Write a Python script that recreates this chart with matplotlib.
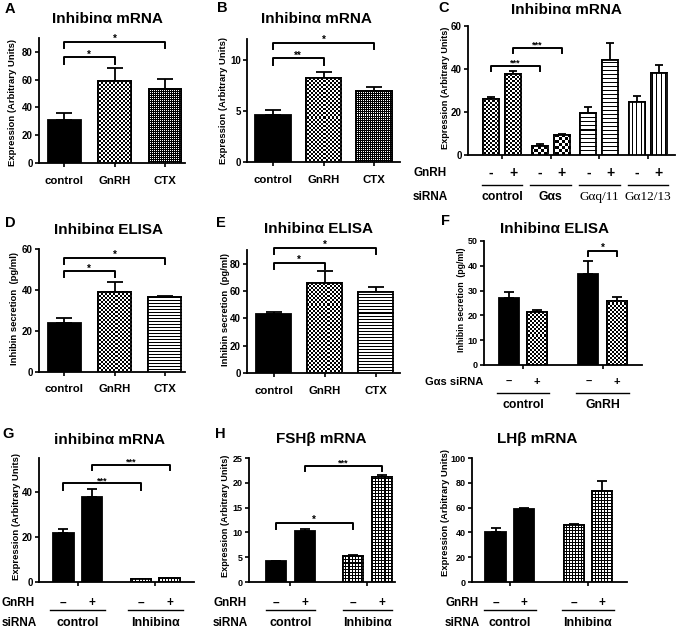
import numpy as np
import matplotlib
matplotlib.use('Agg')
import matplotlib.pyplot as plt

plt.rcParams['font.family'] = ['Liberation Sans', 'DejaVu Sans']
plt.rcParams['font.weight'] = 'bold'
plt.rcParams['axes.labelweight'] = 'bold'

W, H = 683, 628
fig = plt.figure(figsize=(W / 100, H / 100), dpi=100)

# ---------------- data ----------------
cat3 = ['control', 'GnRH', 'CTX']
A_vals = [31, 59, 53]
A_err = [5, 9.2, 7.5]
B_vals = [4.6, 8.2, 6.95]
B_err = [0.5, 0.55, 0.4]
D_vals = [23.9, 38.8, 36.4]
D_err = [2.3, 4.9, 0.6]
E_vals = [42.9, 66.1, 59.5]
E_err = [1.5, 8.6, 3.2]

C_groups = ['control', 'Gαs', 'Gαq/11', 'Gα12/13']
C_minus = [26.0, 4.3, 19.6, 24.7]
C_minus_err = [0.9, 0.8, 2.5, 2.8]
C_plus = [37.6, 9.3, 44.0, 38.2]
C_plus_err = [1.5, 0.4, 8.1, 3.8]

F_groups = ['control', 'GnRH']
F_minus = [27.2, 36.5]
F_minus_err = [2.4, 5.4]
F_plus = [21.4, 26.0]
F_plus_err = [0.8, 1.4]

KD_groups = ['control', 'Inhibinα']
G_minus = [21.8, 1.3]
G_minus_err = [1.8, 0.2]
G_plus = [37.6, 1.6]
G_plus_err = [3.7, 0.2]
H_minus = [4.2, 5.3]
H_minus_err = [0.1, 0.15]
H_plus = [10.2, 21.2]
H_plus_err = [0.5, 0.3]
L_minus = [40.4, 45.8]
L_minus_err = [3.5, 0.8]
L_plus = [58.8, 73.0]
L_plus_err = [1.0, 8.1]


# ---------------- helpers ----------------
def ftext(x, y, s, **kw):
    fig.text(x / W, 1 - y / H, s, **kw)


def make_ax(box, ymax, yticks, xlim, ytfs=7):
    l, t, r, b = box
    ax = fig.add_axes([l / W, 1 - b / H, (r - l) / W, (b - t) / H])
    ax._box = box
    ax._lim = (xlim, (0, ymax))
    ax.set_yticks(yticks)
    for s in ['top', 'right']:
        ax.spines[s].set_visible(False)
    for s in ['left', 'bottom']:
        ax.spines[s].set_linewidth(1.3)
    ax.tick_params(direction='out', length=3, width=1.2, labelsize=ytfs, pad=1.5)
    ax.patch.set_alpha(0)
    return ax


def finish(ax):
    ax.set_xlim(*ax._lim[0])
    ax.set_ylim(*ax._lim[1])


def pattern(kind, h, w):
    i, j = np.mgrid[0:h, 0:w]
    if kind == 'check1':
        a = (i + j) % 2
    elif kind == 'check2':
        a = ((i // 2) + (j // 2)) % 2
    elif kind == 'check3':
        a = ((i // 3) + (j // 3)) % 2
    elif kind == 'dots':
        a = 1 - ((i % 2 == 0) & (j % 2 == 0))
    elif kind == 'hl3':
        a = (i % 3 == 0)
    elif kind == 'hl4':
        a = (i % 4 == 0)
    elif kind == 'vl4':
        a = (j % 4 == 0)
    elif kind == 'grid3':
        a = (i % 3 == 0) | (j % 3 == 0)
    else:
        a = np.zeros((h, w))
    return a.astype(float)


def draw_bar(ax, x, v, e, width, style, cap):
    ax.errorbar([x], [v], yerr=[[0], [e]], fmt='none', ecolor='black',
                elinewidth=1.3, capsize=cap, capthick=1.3, zorder=2)
    fc = 'black' if style == 'solid' else 'white'
    bar = ax.bar([x], [v], width, color=fc, edgecolor='black', linewidth=1.3, zorder=3)[0]
    if style != 'solid':
        l, t, r, b = ax._box
        arr = pattern(style, int(round(b - t)), int(round(r - l)))
        im = ax.imshow(arr, cmap='gray_r', vmin=0, vmax=1, extent=(0, 1, 0, 1),
                       transform=ax.transAxes, interpolation='nearest',
                       aspect='auto', zorder=3.5)
        im.set_clip_path(bar)
        ax.bar([x], [v], width, fill=False, edgecolor='black', linewidth=1.3, zorder=4)


def bracket(ax, x1, x2, y, yleg, txt, fs=7):
    ax.plot([x1, x1, x2, x2], [yleg, y, y, yleg], color='black', lw=1.4,
            clip_on=False, zorder=5)
    ax.text((x1 + x2) / 2, y, txt, ha='center', va='baseline', fontsize=fs, clip_on=False)


def yfrac(ax, ypix):
    l, t, r, b = ax._box
    return (b - ypix) / (b - t)


def below_text(ax, x, ypix, s, **kw):
    ax.text(x, yfrac(ax, ypix), s, transform=ax.get_xaxis_transform(),
            ha='center', va='center', clip_on=False, **kw)


def below_line(ax, x1, x2, ypix):
    ax.plot([x1, x2], [yfrac(ax, ypix)] * 2, transform=ax.get_xaxis_transform(),
            color='black', lw=1.0, clip_on=False)


def three_panel(box, ymax, yticks, xlim, vals, errs, width, styles, cap):
    ax = make_ax(box, ymax, yticks, xlim)
    xs = np.arange(len(vals))
    for x, v, e, st in zip(xs, vals, errs, styles):
        draw_bar(ax, x, v, e, width, st, cap)
    ax.set_xticks(xs)
    ax.set_xticklabels(cat3, fontsize=8.2)
    ax.tick_params(axis='x', pad=6)
    return ax


# ---------------- panel A ----------------
axA = three_panel((39, 38, 185, 163), 90, [0, 20, 40, 60, 80], (-0.5, 2.4),
                  A_vals, A_err, 0.65, ['solid', 'check2', 'dots'], 5.5)
bracket(axA, 0, 1, 76, 71, '*')
bracket(axA, 0, 2, 87, 83, '*')
finish(axA)

# ---------------- panel B ----------------
axB = three_panel((247, 39, 400, 162), 12, [0, 5, 10], (-0.515, 2.515),
                  B_vals, B_err, 0.71, ['solid', 'check2', 'dots'], 6)
bracket(axB, 0, 1, 10.1, 9.5, '**')
bracket(axB, 0, 2, 11.6, 11.0, '*')
finish(axB)

# ---------------- panel D ----------------
axD = three_panel((39, 249, 185, 372), 60, [0, 20, 40, 60], (-0.5, 2.4),
                  D_vals, D_err, 0.66, ['solid', 'check2', 'hl3'], 5.5)
bracket(axD, 0, 1, 49.1, 46.1, '*')
bracket(axD, 0, 2, 55.6, 52.8, '*')
finish(axD)

# ---------------- panel E ----------------
axE = three_panel((247, 250, 400, 373), 90, [0, 20, 40, 60, 80], (-0.52, 2.48),
                  E_vals, E_err, 0.70, ['solid', 'check2', 'hl3'], 6)
bracket(axE, 0, 1, 80.4, 76.2, '*')
bracket(axE, 0, 2, 91.4, 87.0, '*')
finish(axE)

# ---------------- panel C ----------------
axC = make_ax((468, 26, 675, 155), 60, [0, 20, 40, 60], (-0.7, 3.555))
gx = np.arange(len(C_groups))
off, wC = 0.225, 0.33
C_styles_m = ['check2', 'check3', 'hl4', 'vl4']
C_styles_p = ['check2', 'check3', 'hl4', 'vl4']
for g in gx:
    draw_bar(axC, g - off, C_minus[g], C_minus_err[g], wC, C_styles_m[g], 3)
    draw_bar(axC, g + off, C_plus[g], C_plus_err[g], wC, C_styles_p[g], 3)
axC.set_xticks(gx)
axC.set_xticklabels([])
bracket(axC, 0 - off, 1 - off, 41.4, 39.0, '***', fs=6.5)
bracket(axC, 0 + off, 1 + off, 50.0, 47.5, '***', fs=6.5)
for g in gx:
    below_text(axC, g - off, 173, '-', fontsize=10)
    below_text(axC, g + off, 173, '+', fontsize=10)
    below_line(axC, g - 0.42, g + 0.42, 185)
    if g < 2:
        below_text(axC, g, 197, C_groups[g], fontsize=8.8)
    else:
        below_text(axC, g, 197, C_groups[g], fontsize=9.5, fontweight='normal',
                    family=['Liberation Serif', 'DejaVu Serif'])
ftext(413, 173, 'GnRH', ha='left', va='center', fontsize=8.5)
ftext(413, 197, 'siRNA', ha='left', va='center', fontsize=8.5)
finish(axC)

# ---------------- panel F ----------------
axF = make_ax((484, 241, 642, 365), 50, [0, 10, 20, 30, 40, 50], (-0.49, 1.494), ytfs=6.5)
fx = np.arange(len(F_groups))
offF, wF = 0.179, 0.25
for g in fx:
    draw_bar(axF, g - offF, F_minus[g], F_minus_err[g], wF, 'solid', 3.5)
    draw_bar(axF, g + offF, F_plus[g], F_plus_err[g], wF, 'check2', 3.5)
axF.set_xticks(fx)
axF.set_xticklabels([])
bracket(axF, 1 - offF, 1 + offF, 46.0, 44.1, '*')
for g in fx:
    below_text(axF, g - offF, 382, '–', fontsize=8)
    below_text(axF, g + offF, 382, '+', fontsize=8)
    below_line(axF, g - 0.33, g + 0.33, 393)
    below_text(axF, g, 405, F_groups[g], fontsize=8.8)
ftext(483, 382, 'Gαs siRNA', ha='right', va='center', fontsize=8)
finish(axF)

# ---------------- panels G, H, LH ----------------
def kd_panel(box, ymax, yticks, xlim, mvals, merr, pvals, perr, offk, wk, linehalf, lab_x, ytfs=7):
    ax = make_ax(box, ymax, yticks, xlim, ytfs=ytfs)
    kx = np.arange(len(KD_groups))
    styles = ['solid', 'grid3']
    for g in kx:
        draw_bar(ax, g - offk, mvals[g], merr[g], wk, styles[g], 3.5)
        draw_bar(ax, g + offk, pvals[g], perr[g], wk, styles[g], 3.5)
    ax.set_xticks(kx)
    ax.set_xticklabels([])
    for g in kx:
        below_text(ax, g - offk, 603, '–', fontsize=8.5)
        below_text(ax, g + offk, 603, '+', fontsize=8.5)
        below_line(ax, g - linehalf, g + linehalf, 610)
        below_text(ax, g, 623, KD_groups[g], fontsize=9)
    ftext(lab_x, 603, 'GnRH', ha='left', va='center', fontsize=8.5)
    ftext(lab_x, 623, 'siRNA', ha='left', va='center', fontsize=8.5)
    return ax


axG = kd_panel((39, 458, 194, 582), 55, [0, 20, 40], (-0.5, 1.5),
               G_minus, G_minus_err, G_plus, G_plus_err, 0.185, 0.265, 0.355, 2)
bracket(axG, 0 - 0.185, 1 - 0.185, 43.7, 41.0, '***', fs=6.5)
bracket(axG, 0 + 0.185, 1 + 0.185, 52.1, 49.5, '***', fs=6.5)
finish(axG)

axH = kd_panel((249, 458, 395, 582), 25, [0, 5, 10, 15, 20, 25], (-0.535, 1.357),
               H_minus, H_minus_err, H_plus, H_plus_err, 0.19, 0.26, 0.32, 213, ytfs=6.5)
bracket(axH, 0 - 0.19, 1 - 0.19, 11.9, 10.7, '*')
bracket(axH, 0 + 0.19, 1 + 0.19, 23.4, 22.3, '***', fs=6.5)
finish(axH)

axL = kd_panel((472, 458, 627, 582), 100, [0, 20, 40, 60, 80, 100], (-0.485, 1.5),
               L_minus, L_minus_err, L_plus, L_plus_err, 0.183, 0.26, 0.33, 445, ytfs=6.5)
finish(axL)

# ---------------- titles, letters, y labels ----------------
titles = [(107.5, 19, 'Inhibinα mRNA'), (316.7, 19, 'Inhibinα mRNA'),
          (566.7, 10, 'Inhibinα mRNA'), (108.3, 230, 'Inhibinα ELISA'),
          (318, 229, 'Inhibinα ELISA'), (555, 229, 'Inhibinα ELISA'),
          (110, 440, 'inhibinα mRNA'), (321.7, 439, 'FSHβ mRNA'),
          (537.3, 439, 'LHβ mRNA')]
for x, y, s in titles:
    ftext(x, y, s, ha='center', va='center', fontsize=11)

letters = [(10, 9, 'A'), (222, 8, 'B'), (444, 8, 'C'), (10, 223, 'D'),
           (221, 223, 'E'), (446, 221, 'F'), (8, 434, 'G'), (220, 434, 'H')]
for x, y, s in letters:
    ftext(x, y, s, ha='center', va='center', fontsize=10.5)

expr = 'Expression (Arbitrary Units)'
secr = 'Inhibin secretion  (pg/ml)'
ylabels = [(13, 103, expr, 6.8), (224, 100, expr, 6.8), (446, 88, expr, 6.6),
           (15, 309, secr, 6.8), (225, 310, secr, 6.8), (461.5, 300, secr, 6.3),
           (17, 516, expr, 6.8), (226, 516, expr, 6.6), (446, 513, expr, 6.8)]
for x, y, s, fs in ylabels:
    ftext(x, y, s, rotation=90, ha='center', va='center', fontsize=fs)

fig.savefig('out.png', dpi=100)
